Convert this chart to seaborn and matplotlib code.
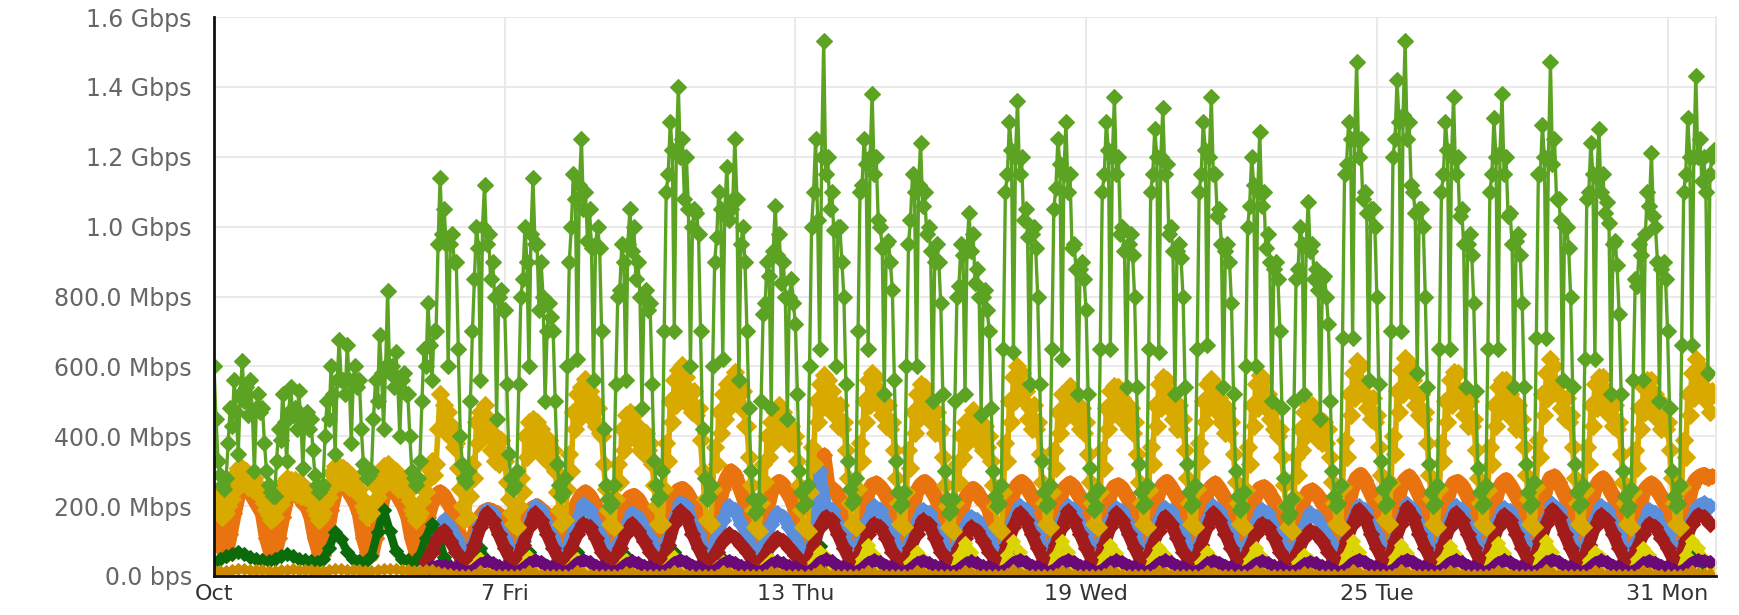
import numpy as np
import pandas as pd
import matplotlib
matplotlib.use("Agg")
import matplotlib.pyplot as plt
import seaborn as sns

nan = np.nan

# ---- data (Mbps), one row per day (Oct 1 .. Oct 31), samples evenly spread over the day ----
green_mbps = [
    [600, 450, 330, 290, 260, 250, 280, 380, 480, 430, 560, 470, 350, 520, 615, 500, 540, 460, 560, 470, 300, 480, 520, 470],
    [480, 380, 300, 260, 240, 230, 230, 330, 420, 390, 520, 440, 330, 470, 540, 460, 480, 420, 530, 450, 310, 450, 470, 420],
    [450, 360, 290, 260, 240, 250, 260, 400, 500, 450, 600, 520, 350, 560, 675, 560, 560, 520, 660, 560, 380, 560, 600, 540],
    [560, 420, 320, 300, 280, 290, 300, 450, 560, 500, 690, 580, 420, 600, 815, 580, 600, 540, 640, 560, 400, 560, 580, 520],
    [520, 400, 300, 280, 260, 280, 330, 500, 650, 600, 780, 660, 560, 700, 700, 950, 1140, 980, 1050, 950, 600, 950, 980, 900],
    [900, 650, 400, 320, 280, 270, 300, 500, 700, 850, 1000, 940, 560, 1000, 1120, 950, 980, 850, 900, 800, 450, 800, 820, 760],
    [760, 550, 350, 280, 250, 260, 300, 550, 800, 850, 1000, 900, 600, 980, 1140, 950, 950, 760, 900, 800, 500, 700, 780, 740],
    [700, 500, 320, 260, 230, 240, 280, 600, 900, 1000, 1150, 1080, 620, 1120, 1250, 1050, 1100, 960, 1050, 940, 560, 950, 1000, 940],
    [700, 420, 260, 220, 200, 210, 260, 550, 800, 820, 950, 900, 560, 950, 1050, 930, 1000, 850, 900, 800, 480, 800, 820, 760],
    [780, 550, 330, 260, 220, 230, 300, 700, 1100, 1150, 1300, 1220, 700, 1220, 1400, 1200, 1250, 1080, 1200, 1050, 600, 1000, 1050, 1040],
    [980, 700, 420, 280, 220, 230, 260, 600, 900, 970, 1100, 1050, 620, 1040, 1170, 1020, 1050, 1080, 1250, 1080, 560, 950, 1000, 900],
    [700, 480, 300, 220, 180, 190, 220, 500, 750, 780, 900, 860, 480, 930, 1060, 920, 980, 840, 900, 800, 450, 800, 850, 780],
    [720, 520, 300, 240, 200, 210, 260, 600, 1000, 1100, 1250, 1020, 650, 1200, 1530, 1150, 1200, 1050, 1100, 990, 600, 1000, 1000, 900],
    [800, 550, 330, 250, 210, 220, 280, 700, 1100, 1120, 1250, 1180, 650, 1200, 1380, 1150, 1200, 1020, 1000, 940, 520, 950, 960, 900],
    [820, 560, 330, 240, 200, 210, 240, 600, 950, 1020, 1150, 1100, 600, 1120, 1240, 1060, 1100, 980, 1000, 930, 500, 900, 950, 900],
    [780, 520, 300, 220, 180, 190, 220, 500, 800, 830, 950, 920, 520, 940, 1040, 930, 980, 840, 880, 800, 460, 800, 820, 760],
    [700, 480, 300, 230, 200, 210, 260, 650, 1100, 1150, 1300, 1220, 640, 1200, 1360, 1150, 1200, 1020, 1050, 970, 550, 980, 1000, 940],
    [800, 550, 330, 240, 200, 210, 260, 650, 1050, 1110, 1250, 1180, 620, 1150, 1300, 1100, 1150, 940, 950, 880, 520, 880, 900, 850],
    [760, 520, 310, 230, 190, 200, 250, 650, 1100, 1150, 1300, 1220, 650, 1200, 1370, 1150, 1200, 980, 1000, 930, 540, 950, 980, 920],
    [800, 540, 320, 240, 200, 210, 260, 650, 1100, 1150, 1280, 1200, 640, 1200, 1340, 1150, 1180, 980, 1000, 930, 520, 930, 950, 910],
    [800, 540, 320, 240, 200, 210, 260, 650, 1100, 1150, 1300, 1220, 660, 1200, 1370, 1150, 1150, 1030, 1050, 950, 540, 930, 950, 900],
    [780, 520, 300, 230, 190, 200, 240, 600, 1000, 1060, 1200, 1120, 600, 1100, 1270, 1060, 1100, 940, 980, 900, 500, 880, 900, 850],
    [700, 480, 280, 200, 170, 180, 220, 500, 850, 880, 1000, 950, 520, 950, 1070, 930, 950, 850, 880, 820, 450, 850, 860, 800],
    [720, 500, 300, 230, 200, 210, 260, 680, 1150, 1180, 1300, 1250, 680, 1250, 1470, 1200, 1250, 1080, 1100, 1040, 560, 1050, 1050, 1000],
    [800, 550, 330, 250, 200, 210, 270, 700, 1200, 1250, 1420, 1300, 700, 1320, 1530, 1250, 1300, 1120, 1100, 1040, 580, 1050, 1050, 1000],
    [800, 540, 320, 240, 200, 210, 260, 650, 1100, 1150, 1300, 1220, 650, 1200, 1370, 1150, 1200, 1030, 1050, 950, 540, 950, 980, 920],
    [780, 530, 310, 240, 200, 210, 260, 650, 1100, 1150, 1310, 1200, 650, 1210, 1380, 1150, 1200, 1030, 1040, 950, 540, 960, 980, 920],
    [780, 540, 320, 240, 200, 210, 270, 680, 1150, 1150, 1290, 1200, 680, 1200, 1470, 1180, 1250, 1080, 1080, 1020, 560, 1000, 1000, 940],
    [800, 540, 320, 240, 200, 210, 260, 620, 1080, 1100, 1240, 1150, 620, 1140, 1280, 1100, 1150, 1040, 1070, 1010, 520, 950, 960, 890],
    [750, 520, 300, 230, 190, 200, 250, 560, 850, 830, 950, 920, 560, 980, 1100, 1060, 1210, 1030, 1000, 900, 500, 880, 900, 850],
    [700, 480, 300, 230, 200, 210, 260, 660, 1100, 1150, 1310, 1200, 660, 1200, 1430, 1200, 1250, 1130, 1200, 1100, 580, 1150, 1200, 1220],
]

gold_mbps = [
    [240, 220, 200, 185, 170, 175, 180, 200, 250, 220, 290, 250, 310, 270, 310, 265, 300, 255, 290, 250, 280, 240, 260, 235],
    [230, 210, 190, 175, 160, 165, 170, 195, 235, 205, 265, 230, 280, 240, 275, 240, 275, 235, 270, 230, 260, 225, 245, 225],
    [230, 210, 190, 175, 160, 170, 180, 210, 255, 225, 295, 255, 315, 270, 315, 270, 310, 265, 300, 255, 290, 250, 270, 240],
    [250, 225, 200, 185, 170, 175, 180, 210, 255, 225, 295, 255, 315, 275, 320, 275, 310, 265, 300, 250, 285, 245, 270, 240],
    [240, 215, 190, 175, 160, 170, 180, 215, 265, 240, 310, 280, 330, 290, 320, 420, 520, 430, 490, 410, 470, 400, 430, 370],
    [380, 310, 250, 200, 160, 165, 170, 230, 320, 280, 440, 380, 470, 400, 490, 410, 450, 360, 410, 330, 370, 320, 390, 330],
    [330, 270, 220, 180, 150, 145, 140, 200, 280, 240, 400, 340, 440, 380, 450, 390, 440, 360, 420, 340, 380, 330, 390, 340],
    [360, 300, 240, 190, 150, 155, 160, 250, 350, 300, 470, 420, 520, 450, 540, 480, 565, 480, 530, 450, 500, 430, 480, 410],
    [400, 320, 250, 190, 150, 145, 140, 220, 320, 270, 420, 360, 460, 390, 470, 400, 460, 390, 430, 360, 400, 350, 410, 360],
    [380, 320, 260, 200, 150, 150, 150, 250, 380, 330, 500, 440, 560, 490, 590, 520, 605, 520, 570, 490, 530, 470, 530, 460],
    [480, 390, 300, 220, 160, 155, 150, 250, 370, 320, 470, 410, 520, 450, 550, 480, 560, 500, 585, 500, 550, 480, 530, 430],
    [430, 340, 260, 190, 140, 135, 130, 210, 320, 270, 400, 340, 440, 380, 470, 410, 490, 420, 470, 400, 430, 380, 430, 380],
    [400, 330, 260, 190, 140, 135, 130, 240, 370, 320, 500, 440, 550, 480, 575, 500, 560, 490, 530, 460, 490, 430, 490, 420],
    [440, 360, 280, 210, 150, 145, 140, 250, 380, 330, 500, 440, 560, 490, 580, 510, 570, 490, 530, 460, 490, 430, 490, 420],
    [440, 360, 280, 210, 150, 145, 140, 240, 360, 310, 470, 410, 520, 450, 550, 480, 540, 470, 510, 440, 470, 410, 470, 410],
    [420, 340, 260, 200, 140, 135, 130, 210, 320, 270, 400, 340, 440, 380, 450, 400, 475, 400, 450, 380, 410, 360, 430, 370],
    [400, 330, 260, 200, 140, 135, 130, 240, 380, 330, 500, 440, 570, 500, 600, 520, 580, 500, 530, 450, 480, 420, 490, 420],
    [440, 350, 270, 210, 150, 145, 140, 240, 360, 310, 470, 410, 520, 450, 530, 470, 545, 470, 520, 450, 480, 420, 480, 410],
    [440, 350, 270, 210, 150, 145, 140, 240, 360, 310, 480, 420, 530, 460, 545, 480, 540, 470, 510, 440, 480, 420, 480, 410],
    [440, 350, 270, 210, 150, 145, 140, 245, 370, 320, 490, 430, 550, 480, 570, 500, 560, 480, 520, 450, 480, 420, 490, 420],
    [450, 360, 280, 210, 150, 145, 140, 250, 380, 330, 500, 440, 550, 480, 565, 490, 550, 470, 510, 440, 470, 410, 480, 410],
    [440, 350, 270, 210, 150, 145, 140, 245, 370, 320, 490, 430, 550, 480, 575, 500, 560, 480, 520, 450, 480, 420, 480, 400],
    [420, 340, 260, 200, 140, 135, 130, 225, 340, 290, 420, 360, 470, 400, 490, 430, 490, 420, 460, 390, 430, 380, 440, 380],
    [420, 340, 270, 210, 150, 145, 140, 255, 390, 340, 520, 460, 580, 510, 615, 540, 600, 520, 550, 480, 510, 450, 510, 440],
    [460, 370, 290, 220, 160, 155, 150, 265, 400, 350, 530, 470, 590, 520, 625, 550, 610, 530, 560, 490, 520, 460, 520, 450],
    [470, 380, 290, 220, 150, 145, 140, 250, 380, 330, 500, 440, 560, 490, 585, 510, 580, 500, 530, 460, 490, 430, 500, 430],
    [450, 360, 280, 210, 150, 145, 140, 245, 370, 320, 490, 430, 540, 470, 560, 500, 560, 480, 520, 450, 480, 420, 490, 420],
    [450, 370, 290, 220, 150, 145, 140, 255, 390, 340, 520, 460, 580, 510, 620, 540, 600, 520, 550, 480, 510, 450, 510, 440],
    [460, 370, 280, 210, 150, 145, 140, 245, 370, 320, 490, 430, 550, 480, 570, 500, 570, 490, 530, 460, 490, 430, 490, 420],
    [440, 350, 270, 210, 150, 145, 140, 240, 360, 310, 480, 420, 540, 470, 560, 490, 560, 480, 520, 450, 480, 420, 490, 420],
    [440, 360, 280, 210, 150, 145, 140, 255, 390, 340, 520, 460, 580, 510, 620, 540, 600, 520, 570, 500, 530, 470, 530, 520],
]

orange_mbps = [
    [200, 130, 80, 60, 120, 180, 230, 250, 255, 240, 220, 200],
    [180, 110, 70, 60, 110, 170, 220, 245, 250, 230, 210, 200],
    [170, 110, 70, 60, 120, 190, 240, 265, 270, 250, 230, 210],
    [180, 110, 70, 60, 110, 180, 230, 255, 260, 240, 220, 200],
    [170, 110, 70, 60, 110, 170, 210, 230, 240, 230, 210, 190],
    [150, 110, 90, 80, 100, 140, 170, 185, 190, 185, 180, 170],
    [150, 110, 90, 80, 110, 150, 180, 195, 200, 190, 180, 170],
    [150, 120, 100, 90, 130, 180, 210, 230, 240, 230, 210, 190],
    [160, 120, 100, 90, 120, 170, 210, 225, 230, 220, 200, 180],
    [160, 120, 100, 90, 130, 190, 230, 245, 250, 240, 220, 200],
    [180, 130, 100, 90, 140, 200, 250, 280, 300, 290, 260, 230],
    [190, 130, 100, 90, 130, 190, 240, 260, 270, 260, 240, 220],
    [190, 130, 100, 90, 130, 200, 250, 345, 260, 250, 240, 220],
    [190, 130, 100, 90, 130, 190, 240, 260, 265, 255, 240, 220],
    [190, 130, 100, 90, 130, 190, 240, 260, 270, 260, 240, 220],
    [180, 130, 100, 90, 120, 180, 220, 240, 250, 240, 220, 210],
    [190, 130, 100, 90, 130, 190, 240, 260, 270, 260, 240, 220],
    [190, 130, 100, 90, 130, 190, 240, 255, 265, 255, 235, 215],
    [190, 130, 100, 90, 130, 190, 235, 255, 260, 250, 230, 210],
    [190, 130, 100, 90, 130, 195, 240, 260, 270, 255, 235, 215],
    [190, 130, 100, 90, 130, 190, 240, 255, 265, 250, 230, 210],
    [185, 130, 100, 90, 125, 185, 230, 250, 255, 245, 225, 205],
    [180, 125, 95, 85, 120, 175, 220, 240, 245, 235, 220, 200],
    [190, 130, 100, 90, 140, 205, 255, 280, 290, 275, 250, 225],
    [200, 135, 100, 90, 140, 205, 255, 275, 285, 270, 245, 220],
    [195, 130, 100, 90, 135, 195, 245, 265, 270, 260, 240, 215],
    [195, 130, 100, 90, 135, 200, 245, 265, 275, 260, 240, 220],
    [195, 135, 100, 90, 140, 205, 255, 280, 285, 270, 245, 220],
    [195, 130, 100, 90, 135, 200, 250, 270, 280, 265, 240, 220],
    [190, 130, 100, 90, 130, 190, 240, 255, 265, 255, 235, 215],
    [195, 135, 100, 90, 140, 205, 255, 275, 285, 290, 280, 285],
]

blue_mbps = [
    [nan, nan, nan, nan, nan, nan, nan, nan],
    [nan, nan, nan, nan, nan, nan, nan, nan],
    [nan, nan, nan, nan, nan, nan, nan, nan],
    [nan, nan, nan, nan, nan, nan, nan, nan],
    [nan, nan, nan, nan, nan, 120, 160, 140],
    [110, 70, 60, 100, 150, 190, 180, 140],
    [110, 70, 60, 100, 150, 200, 190, 150],
    [110, 70, 60, 110, 160, 205, 190, 150],
    [110, 70, 60, 100, 140, 180, 170, 140],
    [110, 70, 60, 110, 160, 210, 200, 150],
    [120, 70, 60, 110, 160, 200, 190, 150],
    [120, 70, 60, 100, 150, 180, 170, 140],
    [110, 70, 60, 110, 300, 200, 190, 150],
    [120, 70, 60, 110, 160, 200, 190, 150],
    [120, 70, 60, 100, 150, 190, 180, 140],
    [110, 70, 60, 100, 140, 170, 160, 130],
    [110, 70, 60, 110, 160, 200, 190, 150],
    [120, 70, 60, 110, 160, 200, 190, 150],
    [120, 70, 60, 110, 160, 195, 185, 150],
    [120, 70, 60, 110, 160, 195, 185, 150],
    [120, 70, 60, 110, 160, 200, 185, 150],
    [120, 70, 60, 100, 150, 190, 180, 140],
    [110, 70, 60, 100, 140, 180, 170, 140],
    [110, 70, 60, 110, 160, 200, 190, 150],
    [120, 70, 60, 110, 160, 205, 190, 150],
    [120, 70, 60, 110, 160, 200, 190, 150],
    [120, 70, 60, 110, 160, 195, 185, 150],
    [120, 70, 60, 110, 160, 205, 190, 150],
    [120, 70, 60, 110, 160, 200, 190, 150],
    [120, 70, 60, 100, 150, 190, 180, 140],
    [120, 70, 60, 110, 160, 200, 210, 200],
]

red_mbps = [
    [nan, nan, nan, nan, nan, nan, nan, nan],
    [nan, nan, nan, nan, nan, nan, nan, nan],
    [nan, nan, nan, nan, nan, nan, nan, nan],
    [nan, nan, nan, nan, nan, nan, nan, nan],
    [nan, nan, nan, 40, 70, 110, 130, 100],
    [70, 45, 40, 90, 140, 180, 160, 120],
    [80, 45, 40, 90, 140, 180, 160, 120],
    [80, 45, 40, 80, 120, 150, 140, 110],
    [70, 45, 40, 80, 120, 150, 130, 100],
    [70, 45, 40, 90, 150, 185, 170, 120],
    [80, 45, 40, 70, 100, 120, 110, 90],
    [70, 40, 35, 60, 90, 110, 100, 80],
    [60, 40, 35, 90, 140, 170, 160, 120],
    [80, 45, 40, 80, 120, 150, 140, 110],
    [70, 45, 40, 80, 120, 160, 150, 110],
    [70, 45, 40, 80, 110, 140, 130, 100],
    [70, 45, 40, 90, 140, 180, 160, 120],
    [80, 45, 40, 90, 140, 185, 160, 120],
    [80, 45, 40, 90, 140, 180, 160, 120],
    [80, 45, 40, 90, 130, 170, 150, 110],
    [70, 45, 40, 90, 140, 180, 160, 120],
    [80, 45, 40, 80, 120, 150, 140, 110],
    [70, 45, 40, 70, 110, 130, 120, 100],
    [70, 45, 40, 100, 150, 190, 170, 120],
    [80, 45, 40, 100, 150, 195, 170, 120],
    [80, 45, 40, 90, 140, 180, 160, 120],
    [80, 45, 40, 90, 140, 175, 160, 120],
    [80, 45, 40, 100, 150, 190, 170, 120],
    [80, 45, 40, 90, 140, 175, 160, 120],
    [80, 45, 40, 80, 120, 150, 140, 110],
    [80, 45, 40, 100, 150, 175, 170, 150],
]

yellow_mbps = [
    [nan, nan, nan, nan, nan, nan, nan, nan],
    [nan, nan, nan, nan, nan, nan, nan, nan],
    [nan, nan, nan, nan, nan, nan, nan, nan],
    [nan, nan, nan, nan, nan, nan, nan, nan],
    [nan, nan, nan, nan, 10, 20, 20, 15],
    [15, 10, 10, 30, 50, 40, 25, 15],
    [15, 10, 10, 30, 55, 45, 25, 15],
    [15, 10, 10, 30, 50, 40, 25, 15],
    [15, 10, 10, 25, 45, 35, 20, 15],
    [15, 10, 10, 30, 55, 45, 25, 15],
    [15, 10, 10, 25, 40, 35, 20, 15],
    [15, 10, 10, 30, 45, 35, 20, 15],
    [15, 10, 10, 40, 70, 55, 30, 15],
    [15, 10, 10, 50, 90, 60, 30, 15],
    [15, 10, 10, 40, 70, 50, 25, 15],
    [15, 10, 10, 60, 95, 70, 30, 15],
    [15, 10, 10, 60, 100, 70, 30, 15],
    [15, 10, 10, 60, 100, 70, 30, 15],
    [15, 10, 10, 55, 90, 65, 30, 15],
    [15, 10, 10, 50, 80, 60, 30, 15],
    [15, 10, 10, 40, 70, 50, 25, 15],
    [15, 10, 10, 50, 80, 55, 25, 15],
    [15, 10, 10, 40, 60, 45, 25, 15],
    [15, 10, 10, 60, 100, 70, 30, 15],
    [15, 10, 10, 55, 90, 65, 30, 15],
    [15, 10, 10, 50, 85, 60, 30, 15],
    [15, 10, 10, 60, 95, 65, 30, 15],
    [15, 10, 10, 60, 100, 70, 30, 15],
    [15, 10, 10, 45, 70, 55, 25, 15],
    [15, 10, 10, 50, 80, 60, 30, 15],
    [15, 10, 10, 60, 100, 80, 50, 30],
]

dkgreen_mbps = [
    [40, 50, 58, 62, 70, 62, 55, 48],
    [45, 42, 48, 58, 62, 56, 50, 45],
    [42, 40, 48, 80, 125, 105, 68, 50],
    [44, 40, 58, 125, 190, 130, 72, 50],
    [45, 40, 60, 110, 150, 115, 55, 28],
    [18, 10, 10, 40, 80, 45, 20, 12],
    [15, 10, 10, 40, 70, 40, 18, 10],
    [15, 10, 10, 38, 68, 40, 18, 10],
    [14, 8, 8, 30, 58, 36, 16, 10],
    [15, 10, 10, 38, 70, 40, 18, 10],
    [12, 6, 6, 22, 48, 30, 14, 10],
    [12, 6, 6, 20, 44, 28, 14, 10],
    [12, 6, 6, 30, 85, 40, 16, 10],
    [12, 6, 6, 24, 55, 32, 14, 10],
    [12, 6, 6, 22, 50, 30, 14, 10],
    [12, 6, 6, 26, 60, 34, 14, 10],
    [12, 6, 6, 26, 62, 34, 14, 10],
    [12, 6, 6, 24, 58, 32, 14, 10],
    [12, 6, 6, 24, 55, 32, 14, 10],
    [12, 6, 6, 22, 50, 30, 14, 10],
    [12, 6, 6, 22, 48, 30, 14, 10],
    [12, 6, 6, 22, 52, 30, 14, 10],
    [12, 6, 6, 20, 45, 28, 14, 10],
    [12, 6, 6, 26, 60, 34, 14, 10],
    [12, 6, 6, 25, 58, 33, 14, 10],
    [12, 6, 6, 24, 55, 32, 14, 10],
    [12, 6, 6, 25, 58, 32, 14, 10],
    [12, 6, 6, 26, 60, 34, 14, 10],
    [12, 6, 6, 22, 50, 30, 14, 10],
    [12, 6, 6, 24, 55, 40, 30, 20],
    [14, 6, 6, 26, 60, 45, 35, 30],
]

purple_mbps = [
    [nan, nan, nan, nan, nan, nan, nan, nan],
    [nan, nan, nan, nan, nan, nan, nan, nan],
    [nan, nan, nan, nan, nan, nan, nan, nan],
    [nan, nan, nan, nan, nan, nan, nan, nan],
    [nan, nan, nan, 15, 25, 30, 30, 25],
    [25, 15, 12, 20, 35, 42, 38, 28],
    [25, 15, 12, 22, 36, 45, 40, 30],
    [26, 16, 12, 22, 38, 46, 40, 30],
    [25, 15, 12, 20, 34, 42, 38, 28],
    [26, 16, 12, 22, 38, 46, 40, 30],
    [26, 15, 12, 20, 35, 44, 38, 28],
    [25, 15, 12, 20, 34, 42, 36, 28],
    [25, 15, 12, 22, 40, 48, 42, 30],
    [26, 16, 12, 22, 38, 46, 40, 30],
    [26, 15, 12, 21, 36, 44, 38, 29],
    [25, 15, 12, 20, 34, 42, 36, 28],
    [26, 16, 12, 22, 38, 46, 40, 30],
    [26, 16, 12, 22, 38, 46, 40, 30],
    [26, 16, 12, 22, 38, 45, 40, 30],
    [26, 16, 12, 22, 37, 45, 39, 30],
    [26, 15, 12, 21, 36, 44, 38, 29],
    [25, 15, 12, 21, 35, 43, 38, 28],
    [25, 15, 12, 20, 34, 41, 36, 28],
    [26, 16, 12, 22, 38, 47, 41, 30],
    [27, 16, 12, 22, 39, 47, 41, 30],
    [26, 16, 12, 22, 38, 46, 40, 30],
    [26, 16, 12, 22, 38, 45, 40, 30],
    [26, 16, 12, 22, 39, 47, 41, 30],
    [26, 16, 12, 22, 37, 45, 40, 30],
    [26, 15, 12, 21, 36, 44, 38, 29],
    [26, 16, 12, 22, 38, 46, 44, 40],
]

brown_mbps = [
    [16, 15, 15, 17, 19, 20, 18, 16],
    [16, 15, 15, 16, 18, 19, 18, 16],
    [16, 15, 15, 17, 19, 20, 18, 16],
    [16, 15, 15, 17, 20, 21, 19, 16],
    [16, 15, 15, 17, 18, 12, 8, 6],
    [3, 2, 2, 4, 14, 9, 4, 3],
    [3, 2, 2, 5, 15, 9, 4, 3],
    [3, 2, 2, 4, 13, 8, 4, 3],
    [3, 2, 2, 4, 12, 8, 4, 3],
    [3, 2, 2, 5, 15, 9, 4, 3],
    [3, 2, 2, 4, 13, 8, 4, 3],
    [3, 2, 2, 4, 12, 8, 4, 3],
    [3, 2, 2, 5, 16, 10, 4, 3],
    [3, 2, 2, 5, 15, 9, 4, 3],
    [3, 2, 2, 4, 14, 9, 4, 3],
    [3, 2, 2, 4, 13, 8, 4, 3],
    [3, 2, 2, 5, 16, 10, 4, 3],
    [3, 2, 2, 5, 15, 9, 4, 3],
    [3, 2, 2, 5, 15, 9, 4, 3],
    [3, 2, 2, 4, 14, 9, 4, 3],
    [3, 2, 2, 4, 14, 8, 4, 3],
    [3, 2, 2, 4, 13, 8, 4, 3],
    [3, 2, 2, 4, 12, 8, 4, 3],
    [3, 2, 2, 5, 16, 10, 4, 3],
    [3, 2, 2, 5, 16, 10, 4, 3],
    [3, 2, 2, 5, 15, 9, 4, 3],
    [3, 2, 2, 5, 15, 9, 4, 3],
    [3, 2, 2, 5, 16, 10, 4, 3],
    [3, 2, 2, 4, 14, 9, 4, 3],
    [3, 2, 2, 4, 14, 9, 4, 3],
    [3, 2, 2, 5, 15, 10, 6, 5],
]

x_tick_days = [0, 6, 12, 18, 24, 30]
x_tick_labels = ["Oct", "7 Fri", "13 Thu", "19 Wed", "25 Tue", "31 Mon"]
y_tick_values = [0, 200, 400, 600, 800, 1000, 1200, 1400, 1600]
y_tick_labels = ["0.0 bps", "200.0 Mbps", "400.0 Mbps", "600.0 Mbps", "800.0 Mbps",
                 "1.0 Gbps", "1.2 Gbps", "1.4 Gbps", "1.6 Gbps"]

# drawing order (later = on top), colours, marker sizes and line widths
series_rows = {
    "orange": orange_mbps,
    "blue": blue_mbps,
    "dkgreen": dkgreen_mbps,
    "red": red_mbps,
    "yellow": yellow_mbps,
    "purple": purple_mbps,
    "brown": brown_mbps,
    "gold": gold_mbps,
    "green": green_mbps,
}
palette = {
    "orange": "#e8730f",
    "blue": "#5b8fdc",
    "dkgreen": "#0b6b0b",
    "red": "#a31c1c",
    "yellow": "#dcd400",
    "purple": "#6a0a78",
    "brown": "#cc8a00",
    "gold": "#d8aa00",
    "green": "#5ca323",
}
marker_sizes = {
    "orange": 8, "blue": 8, "dkgreen": 7, "red": 8, "yellow": 7,
    "purple": 7, "brown": 6, "gold": 9, "green": 8.5,
}
line_widths = {
    "orange": 11, "blue": 9, "dkgreen": 6, "red": 9, "yellow": 6,
    "purple": 8, "brown": 4, "gold": 4, "green": 2.4,
}

frames = []
for name, rows in series_rows.items():
    t_all, v_all = [], []
    for d, row in enumerate(rows):
        n = len(row)
        for i, v in enumerate(row):
            t_all.append(d + i / n)
            v_all.append(v)
    frames.append(pd.DataFrame({"day": t_all, "mbps": v_all, "series": name}))
df = pd.concat(frames, ignore_index=True).dropna()

sns.set_theme(style="white")
plt.rcParams["font.family"] = ["DejaVu Sans"]

fig = plt.figure(figsize=(17.39, 6.15), dpi=100)
ax = fig.add_axes([214 / 1739, 1 - 576 / 615, (1716 - 214) / 1739, (576 - 17) / 615])

order = list(series_rows.keys())
sns.lineplot(data=df, x="day", y="mbps", hue="series", hue_order=order, palette=palette,
             estimator=None, sort=False, marker="D", markersize=7.5, linewidth=2.0,
             legend=False, ax=ax)
for line, name in zip(ax.lines, order):
    c = line.get_color()
    line.set_markerfacecolor(c)
    line.set_markeredgecolor(c)
    line.set_markeredgewidth(0.8)
    line.set_markersize(marker_sizes[name])
    line.set_linewidth(line_widths[name])
    line.set_solid_joinstyle("round")

ax.set_xlim(0, 31)
ax.set_ylim(0, 1600)
ax.set_xticks(x_tick_days)
ax.set_xticklabels(x_tick_labels)
ax.set_yticks(y_tick_values)
ax.set_yticklabels(y_tick_labels)
ax.set_xlabel("")
ax.set_ylabel("")
ax.grid(True, color="#e6e6e6", linewidth=1.2)
ax.set_axisbelow(True)
ax.tick_params(axis="y", length=0, pad=16, labelsize=17, labelcolor="#666666")
ax.tick_params(axis="x", length=0, pad=6, labelsize=16, labelcolor="#333333")
ax.spines["top"].set_visible(False)
ax.spines["right"].set_color("#e6e6e6")
ax.spines["right"].set_linewidth(1.2)
ax.spines["left"].set_color("#111111")
ax.spines["left"].set_linewidth(2)
ax.spines["bottom"].set_color("#111111")
ax.spines["bottom"].set_linewidth(2)

fig.savefig("out.png", dpi=100, facecolor="white")
